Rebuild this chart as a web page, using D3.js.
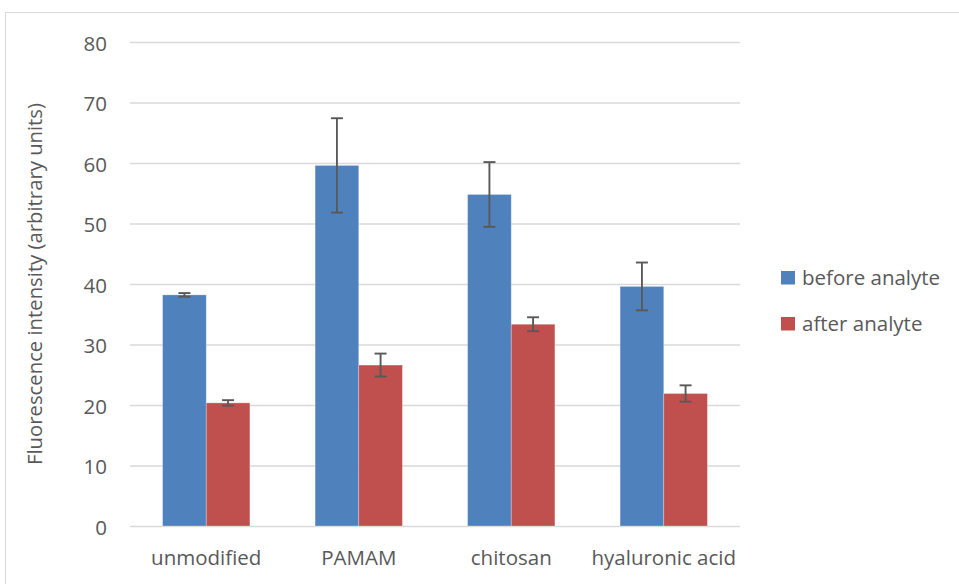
<!DOCTYPE html>
<html>
<head>
<meta charset="utf-8">
<script src="https://cdn.jsdelivr.net/npm/d3@7"></script>
<style>
  html, body { margin: 0; padding: 0; background: #fff; }
  svg { display: block; }
  svg text { font-family: "Open Sans", sans-serif; }
</style>
</head>
<body>
<svg id="chart" width="959" height="584"></svg>
<script>
// Fluorescence intensity before/after analyte for each surface modification
const categories = ["unmodified", "PAMAM", "chitosan", "hyaluronic acid"];
const seriesNames = ["before analyte", "after analyte"];
const beforeValues = [38.2, 59.6, 54.8, 39.6];
const beforeErrors = [0.3, 7.8, 5.35, 3.95];
const afterValues = [20.35, 26.6, 33.35, 21.9];
const afterErrors = [0.45, 1.9, 1.15, 1.35];
const yTicks = [0, 10, 20, 30, 40, 50, 60, 70, 80];
const colors = ["#4F81BD", "#C0504D"];

const svg = d3.select("#chart");

// outer chart frame
svg.append("rect")
  .attr("x", 5.5).attr("y", 12.5)
  .attr("width", 960).attr("height", 580)
  .attr("fill", "none").attr("stroke", "#D9D9D9").attr("stroke-width", 1);

const plot = { left: 130, right: 740, top: 42, bottom: 526 };

const y = d3.scaleLinear().domain([0, 80]).range([plot.bottom, plot.top]);
const x0 = d3.scaleBand().domain(categories)
  .range([plot.left, plot.right])
  .paddingInner(0.4275).paddingOuter(0.21375);
const x1 = d3.scaleBand().domain(seriesNames).range([0, x0.bandwidth()]);

// horizontal gridlines with tick labels
const yAxis = d3.axisLeft(y).tickValues(yTicks)
  .tickSize(-(plot.right - plot.left)).tickPadding(23);
const gy = svg.append("g")
  .attr("transform", `translate(${plot.left},0)`)
  .call(yAxis)
  .attr("font-family", null).attr("font-size", null);
gy.select(".domain").remove();
gy.selectAll(".tick line").attr("stroke", "#D9D9D9").attr("stroke-width", 1.3);
gy.selectAll(".tick text")
  .attr("dy", 8)
  .attr("fill", "#595959").style("font-size", "20.5px");

// category axis labels
const gx = svg.append("g")
  .attr("transform", `translate(0,${plot.bottom})`)
  .call(d3.axisBottom(x0).tickSize(0))
  .attr("font-family", null).attr("font-size", null);
gx.select(".domain").remove();
gx.selectAll(".tick text")
  .attr("y", 39).attr("dy", 0)
  .attr("fill", "#595959").style("font-size", "20.5px");

// bars
const rows = categories.map((c, i) => ({
  cat: c,
  vals: [
    { s: seriesNames[0], v: beforeValues[i], e: beforeErrors[i] },
    { s: seriesNames[1], v: afterValues[i], e: afterErrors[i] }
  ]
}));

const groups = svg.append("g").selectAll("g")
  .data(rows).join("g")
  .attr("transform", d => `translate(${x0(d.cat)},0)`);

groups.selectAll("rect")
  .data(d => d.vals).join("rect")
  .attr("x", d => x1(d.s))
  .attr("y", d => y(d.v))
  .attr("width", x1.bandwidth())
  .attr("height", d => y(0) - y(d.v))
  .attr("fill", (d, i) => colors[i])
  .attr("stroke", "#ffffff").attr("stroke-opacity", 0.35).attr("stroke-width", 0.8);

// error bars
const err = groups.selectAll("g.err")
  .data(d => d.vals).join("g").attr("class", "err")
  .attr("stroke", "#595959").attr("stroke-width", 1.9);
const cx = d => x1(d.s) + x1.bandwidth() / 2;
err.append("line")
  .attr("x1", cx).attr("x2", cx)
  .attr("y1", d => y(d.v + d.e)).attr("y2", d => y(d.v - d.e));
err.append("line")
  .attr("x1", d => cx(d) - 6).attr("x2", d => cx(d) + 6)
  .attr("y1", d => y(d.v + d.e)).attr("y2", d => y(d.v + d.e));
err.append("line")
  .attr("x1", d => cx(d) - 6).attr("x2", d => cx(d) + 6)
  .attr("y1", d => y(d.v - d.e)).attr("y2", d => y(d.v - d.e));

// y-axis title
svg.append("text")
  .attr("transform", `translate(42,${(plot.top + plot.bottom) / 2}) rotate(-90)`)
  .attr("text-anchor", "middle")
  .attr("fill", "#595959").style("font-size", "20.3px")
  .text("Fluorescence intensity (arbitrary units)");

// legend
const legend = svg.append("g").selectAll("g")
  .data(seriesNames).join("g")
  .attr("transform", (d, i) => `translate(781,${271 + i * 46})`);
legend.append("rect")
  .attr("width", 14).attr("height", 13.5)
  .attr("fill", (d, i) => colors[i]);
legend.append("text")
  .attr("x", 21).attr("y", 14)
  .attr("fill", "#595959").style("font-size", "20.5px")
  .text(d => d);
</script>
</body>
</html>
